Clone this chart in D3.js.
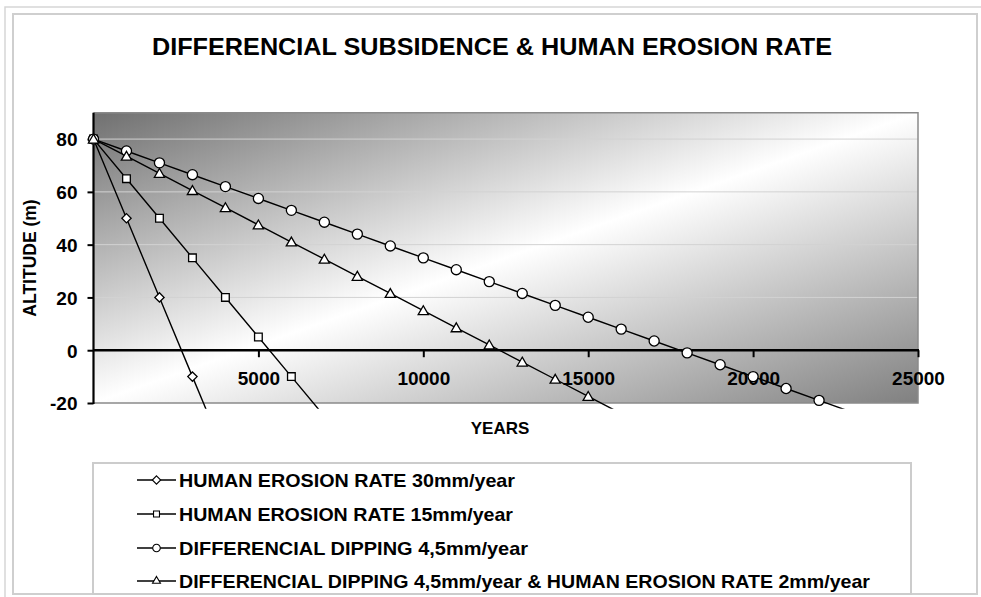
<!DOCTYPE html>
<html>
<head>
<meta charset="utf-8">
<script src="https://cdn.jsdelivr.net/npm/d3@7"></script>
<style>
  html, body { margin: 0; padding: 0; background: #fff; }
  svg { display: block; font-family: "Liberation Sans", Arial, sans-serif; }
</style>
</head>
<body>
<svg id="chart" width="981" height="597"></svg>
<script>
// ---- data ----
const chartTitle = "DIFFERENCIAL SUBSIDENCE & HUMAN EROSION RATE";
const xTitle = "YEARS";
const yTitle = "ALTITUDE (m)";
const xTicks = [5000, 10000, 15000, 20000, 25000];
const yTicks = [-20, 0, 20, 40, 60, 80];
const gridValues = [20, 40, 60, 80];

const seriesNames = [
  "HUMAN EROSION RATE 30mm/year",
  "HUMAN EROSION RATE 15mm/year",
  "DIFFERENCIAL DIPPING 4,5mm/year",
  "DIFFERENCIAL DIPPING 4,5mm/year & HUMAN EROSION RATE 2mm/year"
];
const seriesMarkers = ["diamond", "square", "circle", "triangle"];

const years30 = [0, 1000, 2000, 3000, 4000];
const alt30 = [80, 50, 20, -10, -40];

const years15 = [0, 1000, 2000, 3000, 4000, 5000, 6000, 7000];
const alt15 = [80, 65, 50, 35, 20, 5, -10, -25];

const years45 = [0, 1000, 2000, 3000, 4000, 5000, 6000, 7000, 8000, 9000, 10000, 11000,
                 12000, 13000, 14000, 15000, 16000, 17000, 18000, 19000, 20000, 21000, 22000, 23000];
const alt45 = [80, 75.5, 71, 66.5, 62, 57.5, 53, 48.5, 44, 39.5, 35, 30.5,
               26, 21.5, 17, 12.5, 8, 3.5, -1, -5.5, -10, -14.5, -19, -23.5];

const years65 = [0, 1000, 2000, 3000, 4000, 5000, 6000, 7000, 8000, 9000, 10000, 11000,
                 12000, 13000, 14000, 15000, 16000];
const alt65 = [80, 73.5, 67, 60.5, 54, 47.5, 41, 34.5, 28, 21.5, 15, 8.5,
               2, -4.5, -11, -17.5, -24];

const seriesYears = [years30, years15, years45, years65];
const seriesAlts = [alt30, alt15, alt45, alt65];

// ---- layout ----
const svg = d3.select("#chart");
const plot = { left: 93.5, right: 918, top: 112.7, bottom: 403 };
const font = '"Liberation Sans", Arial, sans-serif';

const x = d3.scaleLinear().domain([0, 25000]).range([plot.left, plot.right]);
const y = d3.scaleLinear().domain([-20, 90]).range([plot.bottom, plot.top]);
const plainFmt = d => String(d);

// frames
svg.append("rect").attr("x", 5).attr("y", 7).attr("width", 1100).attr("height", 1000)
  .attr("fill", "none").attr("stroke", "#d6d6d6").attr("stroke-width", 1.5);
svg.append("rect").attr("x", 13).attr("y", 14).attr("width", 964).attr("height", 580)
  .attr("fill", "#fff").attr("stroke", "#cfcfcf").attr("stroke-width", 2);

// title
svg.append("text").attr("x", 152).attr("y", 55)
  .attr("font-size", 24).attr("font-weight", "bold").attr("fill", "#000")
  .attr("textLength", 680).attr("lengthAdjust", "spacingAndGlyphs").text(chartTitle);

// gradient background
const defs = svg.append("defs");
const grad = defs.append("linearGradient").attr("id", "bg")
  .attr("x1", 0).attr("y1", 0).attr("x2", 1).attr("y2", 1);
grad.append("stop").attr("offset", 0).attr("stop-color", "#707070");
grad.append("stop").attr("offset", 0.5).attr("stop-color", "#ffffff");
grad.append("stop").attr("offset", 1).attr("stop-color", "#808080");

svg.append("rect").attr("x", plot.left).attr("y", plot.top)
  .attr("width", plot.right - plot.left).attr("height", plot.bottom - plot.top)
  .attr("fill", "url(#bg)");

// gridlines
svg.append("g").selectAll("line").data(gridValues).join("line")
  .attr("x1", plot.left).attr("x2", plot.right)
  .attr("y1", d => y(d)).attr("y2", d => y(d))
  .attr("stroke", "#d2d2d2").attr("stroke-width", 1);

// plot border (top, right, bottom)
svg.append("path")
  .attr("d", `M${plot.left},${plot.top}H${plot.right}V${plot.bottom}H${plot.left}`)
  .attr("fill", "none").attr("stroke", "#8a8a8a").attr("stroke-width", 1.5);

// y axis
const yAxis = svg.append("g").attr("transform", `translate(${plot.left},0)`)
  .call(d3.axisLeft(y).tickValues(yTicks).tickFormat(plainFmt)
    .tickSize(6).tickSizeOuter(0).tickPadding(10));
yAxis.select(".domain").remove();
yAxis.selectAll(".tick line").attr("stroke", "#000").attr("stroke-width", 2);
yAxis.selectAll(".tick text").attr("font-family", font).attr("font-size", 19)
  .attr("font-weight", "bold").attr("fill", "#000").attr("dy", "0.36em");
svg.append("line").attr("x1", plot.left).attr("x2", plot.left)
  .attr("y1", plot.top).attr("y2", plot.bottom + 1)
  .attr("stroke", "#000").attr("stroke-width", 2.2);

// x axis at y = 0
const xAxis = svg.append("g").attr("transform", `translate(0,${y(0)})`)
  .call(d3.axisBottom(x).tickValues(xTicks).tickFormat(plainFmt)
    .tickSize(7).tickSizeOuter(0).tickPadding(14));
xAxis.select(".domain").remove();
xAxis.selectAll(".tick line").attr("stroke", "#000").attr("stroke-width", 2);
xAxis.selectAll(".tick text").attr("font-family", font).attr("font-size", 19)
  .attr("font-weight", "bold").attr("fill", "#000");
svg.append("line").attr("x1", plot.left).attr("x2", plot.right + 1)
  .attr("y1", y(0)).attr("y2", y(0))
  .attr("stroke", "#000").attr("stroke-width", 2.5);

// axis titles
svg.append("text").attr("x", 500).attr("y", 434).attr("text-anchor", "middle")
  .attr("font-size", 17).attr("font-weight", "bold").text(xTitle);
svg.append("text").attr("transform", "translate(36,258) rotate(-90)")
  .attr("text-anchor", "middle").attr("font-size", 17.5).attr("font-weight", "bold").text(yTitle);

// clip for series lines
defs.append("clipPath").attr("id", "clip").append("rect")
  .attr("x", plot.left - 10).attr("y", plot.top - 10)
  .attr("width", plot.right - plot.left + 20).attr("height", y(-22.2) - plot.top + 10);

const symbolTypes = {
  diamond: d3.symbolDiamond2,
  square: d3.symbolSquare2,
  circle: d3.symbolCircle,
  triangle: d3.symbolTriangle2
};
const symbolSizes = { diamond: 55, square: 75, circle: 80, triangle: 75 };

const line = d3.line().x(d => x(d[0])).y(d => y(d[1]));
const seriesG = svg.append("g").attr("clip-path", "url(#clip)");

seriesYears.forEach((yrs, i) => {
  const pts = yrs.map((t, j) => [t, seriesAlts[i][j]]);
  seriesG.append("path").datum(pts).attr("d", line)
    .attr("fill", "none").attr("stroke", "#000").attr("stroke-width", 1.4);
});
const markerG = svg.append("g");
seriesYears.forEach((yrs, i) => {
  const m = seriesMarkers[i];
  const pts = yrs.map((t, j) => [t, seriesAlts[i][j]]).filter(d => d[1] >= -20);
  markerG.append("g").selectAll("path").data(pts).join("path")
    .attr("transform", d => `translate(${x(d[0])},${y(d[1]) + (m === "triangle" ? 1 : 0)})`)
    .attr("d", d3.symbol().type(symbolTypes[m]).size(symbolSizes[m])())
    .attr("fill", "#fff").attr("stroke", "#000").attr("stroke-width", 1.3);
});

// legend
svg.append("rect").attr("x", 93).attr("y", 463).attr("width", 818).attr("height", 131)
  .attr("fill", "#fff").attr("stroke", "#cccccc").attr("stroke-width", 2);
const legendRows = [480, 514, 548, 581];
const legendLen = [336, 334, 349, 691];
seriesNames.forEach((name, i) => {
  const g = svg.append("g").attr("transform", `translate(0,${legendRows[i]})`);
  g.append("line").attr("x1", 137).attr("x2", 176).attr("y1", 0).attr("y2", 0)
    .attr("stroke", "#000").attr("stroke-width", 1.4);
  g.append("path").attr("transform", "translate(156.5,0)")
    .attr("d", d3.symbol().type(symbolTypes[seriesMarkers[i]]).size(45)())
    .attr("fill", "#fff").attr("stroke", "#000").attr("stroke-width", 1.1);
  g.append("text").attr("x", 179).attr("y", 7).attr("font-size", 18.5).attr("font-weight", "bold")
    .attr("textLength", legendLen[i]).attr("lengthAdjust", "spacingAndGlyphs").text(name);
});
</script>
</body>
</html>
